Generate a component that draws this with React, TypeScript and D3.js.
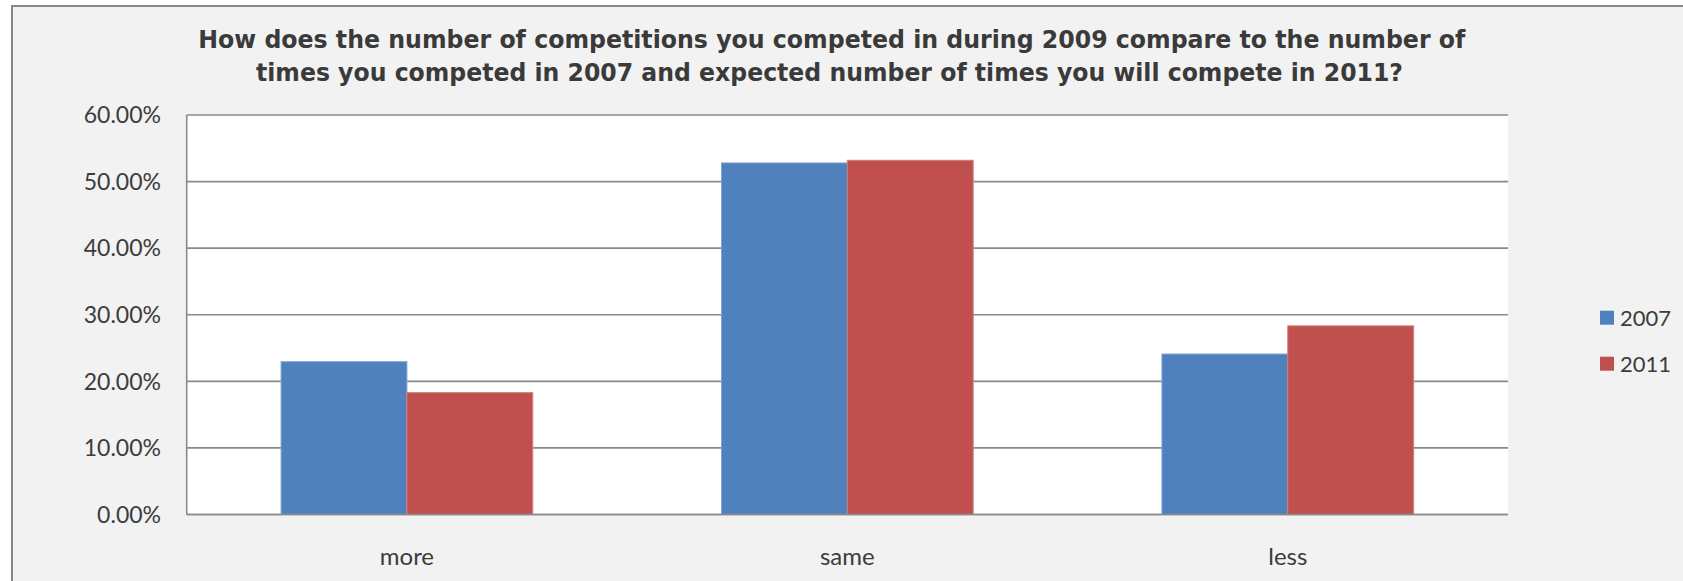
import React from 'react';
import * as d3 from 'd3';

const categories = ['more', 'same', 'less'];
const seriesNames = ['2007', '2011'];
const values2007 = [0.2295, 0.528, 0.241];
const values2011 = [0.183, 0.532, 0.2833];
const yTicks = [0, 0.1, 0.2, 0.3, 0.4, 0.5, 0.6];
const titleLines = [
  'How does the number of competitions you competed in during 2009 compare to the number of',
  'times you competed in 2007 and expected number of times you will compete in 2011?',
];

const colors = ['#4F81BD', '#C0504D'];
const edgeColors = ['#7fa2cf', '#d17d7b'];

const W = 1683;
const H = 581;
const plot = { left: 186.7, right: 1508, top: 115, bottom: 514.5 };

const App: React.FC = () => {
  const x = d3
    .scaleBand<string>()
    .domain(categories)
    .range([plot.left, plot.right])
    .paddingInner(1.5 / 3.5)
    .paddingOuter(0.75 / 3.5);

  const xInner = d3.scaleBand<string>().domain(seriesNames).range([0, x.bandwidth()]);

  const y = d3.scaleLinear().domain([0, 0.6]).range([plot.bottom, plot.top]);
  const fmt = d3.format('.2%');

  const series = [values2007, values2011];
  const labelFont = 'Lato, "Open Sans", sans-serif';

  return (
    <div style={{ position: 'absolute', left: 0, top: 0 }}>
      <svg width={W} height={H} style={{ display: 'block' }}>
        <rect x={0} y={0} width={W} height={H} fill="#ffffff" />
        <rect x={12} y={6} width={W + 40} height={H + 40} fill="#F2F2F2" stroke="#888888" strokeWidth={2} />

        {/* title */}
        <g fontFamily='"DejaVu Sans", Verdana, sans-serif' fontWeight="bold" fontSize={24} fill="#3a3a3a">
          <text x={198.3} y={48.3} textLength={1267} lengthAdjust="spacingAndGlyphs">
            {titleLines[0]}
          </text>
          <text x={256} y={80.7} textLength={1147} lengthAdjust="spacingAndGlyphs">
            {titleLines[1]}
          </text>
        </g>

        {/* plot area */}
        <rect
          x={plot.left}
          y={plot.top}
          width={plot.right - plot.left}
          height={plot.bottom - plot.top}
          fill="#ffffff"
        />

        {/* gridlines */}
        <g stroke="#8a8a8a" strokeWidth={1.6}>
          {yTicks.map((t) => (
            <line key={t} x1={plot.left} x2={plot.right} y1={y(t)} y2={y(t)} />
          ))}
        </g>

        {/* bars */}
        {series.map((vals, si) => (
          <g key={seriesNames[si]} fill={colors[si]} stroke={edgeColors[si]} strokeWidth={1}>
            {categories.map((c, ci) => {
              const bx = (x(c) ?? 0) + (xInner(seriesNames[si]) ?? 0);
              return (
                <rect
                  key={c}
                  x={bx}
                  y={y(vals[ci])}
                  width={xInner.bandwidth()}
                  height={y(0) - y(vals[ci])}
                />
              );
            })}
          </g>
        ))}

        {/* axes lines */}
        <line x1={plot.left} x2={plot.left} y1={plot.top} y2={plot.bottom} stroke="#8a8a8a" strokeWidth={1.6} />
        <line x1={plot.left} x2={plot.right} y1={plot.bottom} y2={plot.bottom} stroke="#8a8a8a" strokeWidth={1.6} />

        {/* y tick labels */}
        <g fontFamily={labelFont} fontSize={23} fill="#3c3c3c" textAnchor="end">
          {yTicks.map((t) => (
            <text key={t} x={161} y={y(t)} dy="0.36em">
              {fmt(t)}
            </text>
          ))}
        </g>

        {/* category labels */}
        <g fontFamily={labelFont} fontSize={24} fill="#3c3c3c" textAnchor="middle">
          {categories.map((c) => (
            <text key={c} x={(x(c) ?? 0) + x.bandwidth() / 2} y={565}>
              {c}
            </text>
          ))}
        </g>

        {/* legend */}
        <g fontFamily={labelFont} fontSize={22} fill="#3c3c3c">
          {seriesNames.map((s, i) => {
            const cy = 317.7 + i * 46;
            return (
              <g key={s}>
                <rect x={1600} y={cy - 7} width={14} height={14} fill={colors[i]} />
                <text x={1620} y={cy} dy="0.36em">
                  {s}
                </text>
              </g>
            );
          })}
        </g>
      </svg>
    </div>
  );
};

export default App;
